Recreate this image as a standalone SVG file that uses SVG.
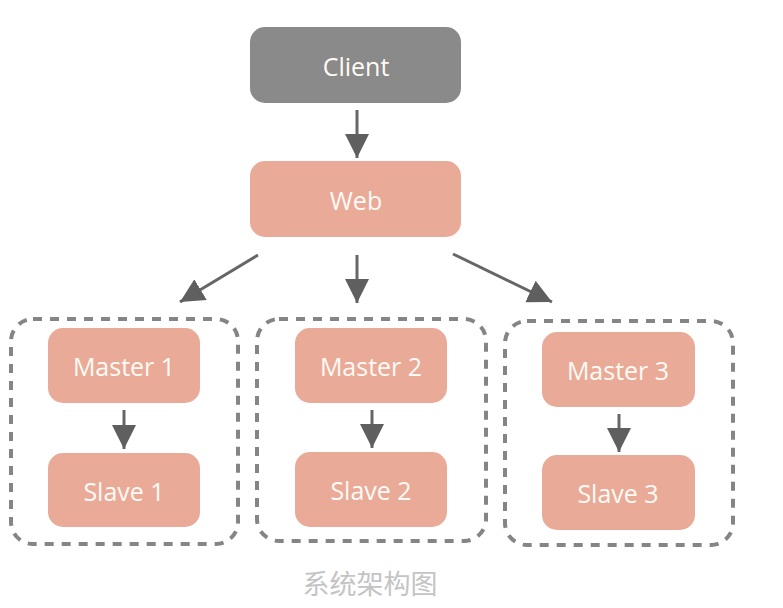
<svg xmlns="http://www.w3.org/2000/svg" width="783" height="608" viewBox="0 0 783 608">
<style>
.box{fill:#e9aa98;}
.client{fill:#8a8a8a;}
.lbl{font-family:"Open Sans","DejaVu Sans",sans-serif;font-size:25px;fill:#fffaf5;text-anchor:middle;dominant-baseline:central;}
.grp{fill:none;stroke:#858585;stroke-width:4;stroke-dasharray:9 8;}
.conn{stroke:#666;stroke-width:3;fill:none;marker-end:url(#ah);}
.cap{font-family:"Noto Sans CJK SC",sans-serif;font-size:27px;fill:#c4c4c4;text-anchor:middle;}
</style>
<defs>
<marker id="ah" markerUnits="userSpaceOnUse" markerWidth="26" markerHeight="26" viewBox="0 0 26 26" refX="24" refY="13" orient="auto">
<path d="M0,1 L24,13 L0,25 Z" fill="#5f5f5f"/>
</marker>
</defs>
<rect width="783" height="608" fill="#ffffff"/>
<g id="groups">
<rect id="group1" class="grp" x="11" y="319" width="227" height="225" rx="22"/>
<rect id="group2" class="grp" x="257" y="319" width="229" height="222" rx="22"/>
<rect id="group3" class="grp" x="505" y="321" width="228" height="224" rx="22"/>
</g>
<g id="connectors">
<line class="conn" x1="357" y1="110" x2="357" y2="158"/>
<line class="conn" x1="258" y1="255" x2="180" y2="302"/>
<line class="conn" x1="357" y1="255" x2="357" y2="303"/>
<line class="conn" x1="453" y1="254" x2="552" y2="302"/>
<line class="conn" x1="124" y1="410" x2="124" y2="449"/>
<line class="conn" x1="372" y1="410" x2="372" y2="448"/>
<line class="conn" x1="619" y1="414" x2="619" y2="452"/>
</g>
<g id="client"><rect class="client" x="250" y="27" width="211" height="76" rx="15"/><text class="lbl" x="356" y="66">Client</text></g>
<g id="web"><rect class="box" x="250" y="161" width="211" height="76" rx="15"/><text class="lbl" x="356" y="200">Web</text></g>
<g id="master1"><rect class="box" x="48" y="328" width="152" height="75" rx="15"/><text class="lbl" x="124" y="366">Master 1</text></g>
<g id="slave1"><rect class="box" x="48" y="453" width="152" height="74" rx="15"/><text class="lbl" x="124" y="491">Slave 1</text></g>
<g id="master2"><rect class="box" x="295" y="328" width="152" height="75" rx="15"/><text class="lbl" x="371" y="366">Master 2</text></g>
<g id="slave2"><rect class="box" x="295" y="452" width="152" height="75" rx="15"/><text class="lbl" x="371" y="490">Slave 2</text></g>
<g id="master3"><rect class="box" x="542" y="332" width="153" height="75" rx="15"/><text class="lbl" x="618" y="370">Master 3</text></g>
<g id="slave3"><rect class="box" x="542" y="455" width="153" height="75" rx="15"/><text class="lbl" x="618" y="493">Slave 3</text></g>
<text class="cap" x="370" y="594">系统架构图</text>
</svg>
